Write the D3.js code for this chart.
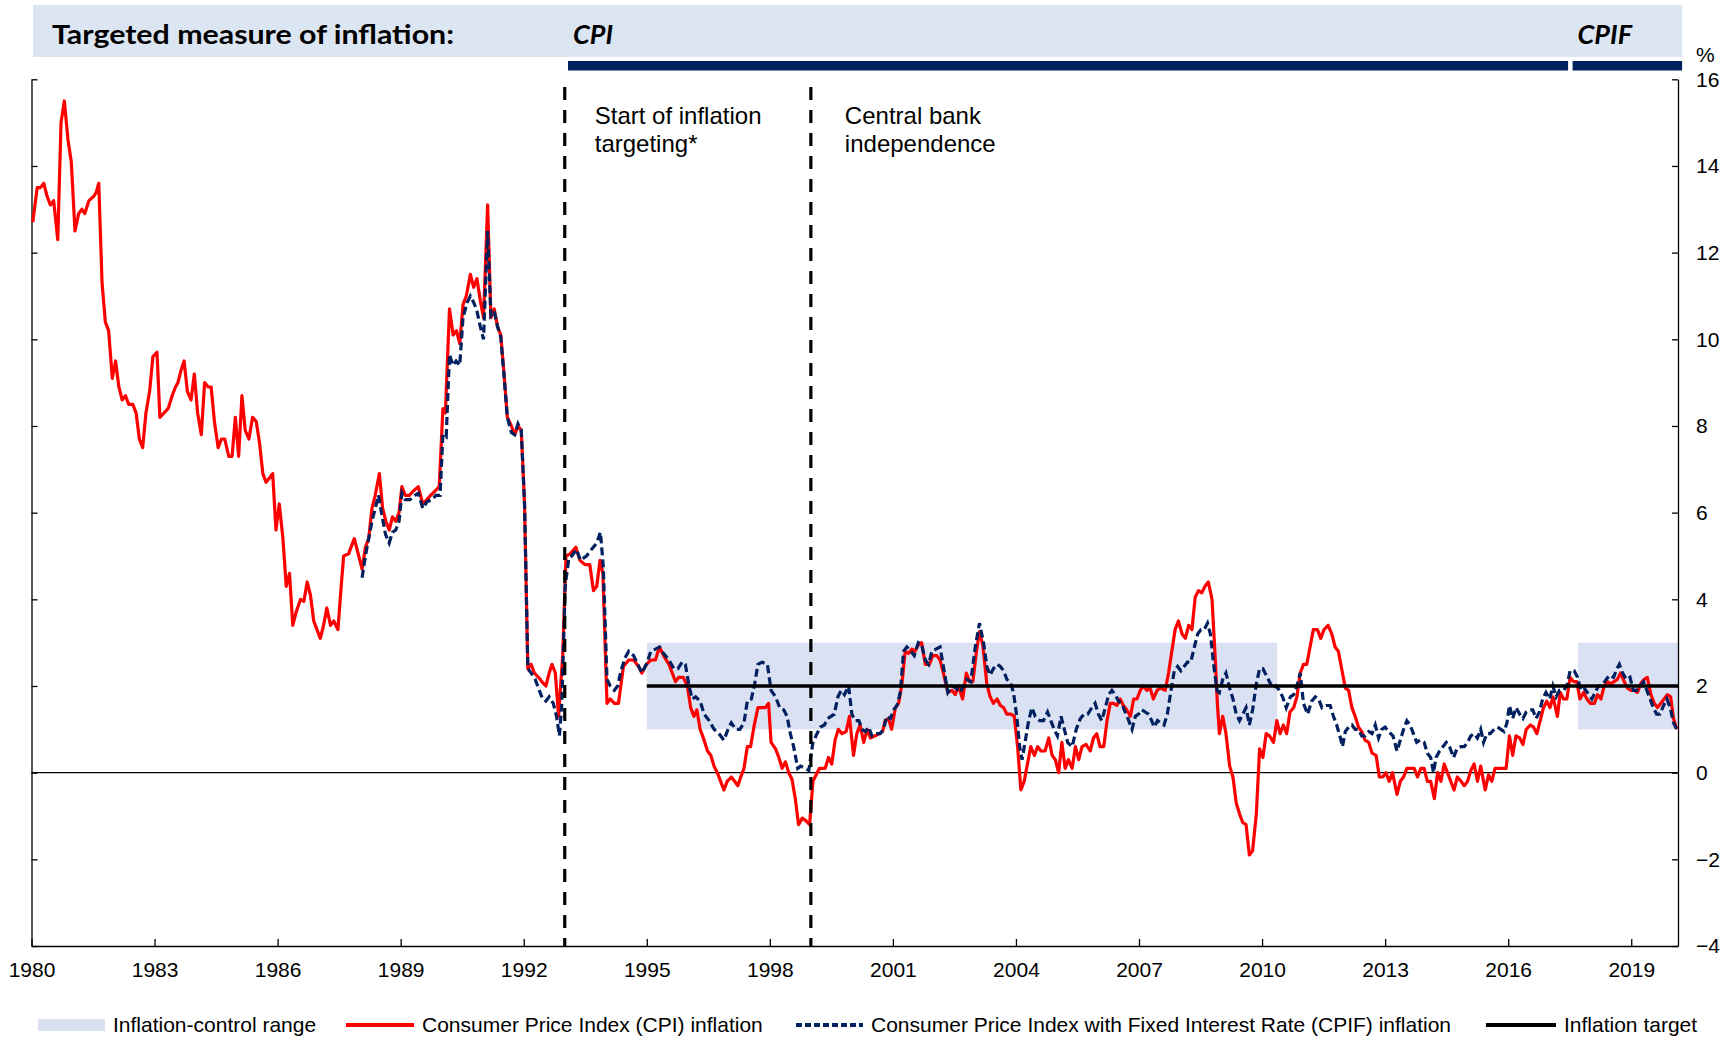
<!DOCTYPE html>
<html>
<head>
<meta charset="utf-8">
<script src="https://cdn.jsdelivr.net/npm/d3@7"></script>
<style>
  body { margin: 0; background: #fff; }
  svg { display: block; }
</style>
</head>
<body>
<svg id="chart"></svg>
<script>
// CPI inflation, [decimal year, %]
var cpiData = [
  [1980.03,12.7],[1980.14,13.5],[1980.22,13.5],[1980.30,13.6],[1980.38,13.3],[1980.46,13.1],[1980.54,13.2],[1980.64,12.3],
  [1980.72,15.0],[1980.80,15.5],[1980.89,14.6],[1980.97,14.1],[1981.06,12.5],[1981.15,12.9],[1981.23,13.0],[1981.30,12.9],
  [1981.40,13.2],[1981.52,13.3],[1981.58,13.4],[1981.64,13.6],[1981.72,11.3],[1981.80,10.4],[1981.88,10.2],[1981.97,9.1],
  [1982.05,9.5],[1982.13,8.9],[1982.21,8.6],[1982.29,8.7],[1982.37,8.5],[1982.47,8.5],[1982.55,8.3],[1982.63,7.7],
  [1982.71,7.5],[1982.79,8.3],[1982.88,8.8],[1982.96,9.6],[1983.06,9.7],[1983.13,8.2],[1983.23,8.3],[1983.33,8.4],
  [1983.43,8.7],[1983.51,8.9],[1983.57,9.0],[1983.65,9.3],[1983.72,9.5],[1983.80,8.8],[1983.89,8.6],[1983.97,9.2],
  [1984.05,8.3],[1984.14,7.8],[1984.22,9.0],[1984.31,8.9],[1984.38,8.9],[1984.46,8.1],[1984.55,7.5],[1984.63,7.7],
  [1984.71,7.7],[1984.81,7.3],[1984.89,7.3],[1984.97,8.2],[1985.05,7.3],[1985.13,8.7],[1985.21,7.9],[1985.30,7.7],
  [1985.39,8.2],[1985.48,8.1],[1985.56,7.6],[1985.64,6.9],[1985.72,6.7],[1985.80,6.8],[1985.88,6.9],[1985.96,5.6],
  [1986.04,6.2],[1986.13,5.4],[1986.21,4.3],[1986.29,4.6],[1986.37,3.4],[1986.45,3.7],[1986.56,4.0],[1986.64,3.95],
  [1986.72,4.4],[1986.80,4.1],[1986.88,3.5],[1986.96,3.3],[1987.04,3.1],[1987.12,3.4],[1987.20,3.8],[1987.29,3.4],
  [1987.37,3.5],[1987.47,3.3],[1987.55,4.3],[1987.61,5.0],[1987.73,5.05],[1987.87,5.4],[1987.95,5.1],[1988.06,4.7],
  [1988.14,5.2],[1988.22,5.4],[1988.30,6.1],[1988.38,6.4],[1988.48,6.9],[1988.56,6.1],[1988.64,5.8],[1988.72,5.6],
  [1988.80,5.9],[1988.88,5.8],[1988.96,6.0],[1989.03,6.6],[1989.11,6.4],[1989.21,6.4],[1989.31,6.5],[1989.43,6.6],
  [1989.54,6.2],[1989.64,6.3],[1989.73,6.4],[1989.84,6.5],[1989.94,6.6],[1990.03,8.4],[1990.09,8.3],[1990.19,10.7],
  [1990.28,10.1],[1990.36,10.2],[1990.44,9.9],[1990.52,10.8],[1990.60,11.0],[1990.70,11.5],[1990.78,11.2],[1990.86,11.4],
  [1990.94,10.9],[1991.02,10.5],[1991.12,13.1],[1991.20,10.5],[1991.28,10.7],[1991.36,10.3],[1991.44,10.1],[1991.52,9.2],
  [1991.60,8.2],[1991.70,8.0],[1991.78,7.8],[1991.86,8.0],[1991.94,7.9],[1992.02,6.2],[1992.10,2.4],[1992.18,2.5],
  [1992.26,2.3],[1992.36,2.2],[1992.44,2.1],[1992.54,2.0],[1992.62,2.3],[1992.69,2.5],[1992.77,2.3],[1992.85,1.3],
  [1992.95,2.7],[1993.03,5.0],[1993.13,5.05],[1993.27,5.2],[1993.37,4.9],[1993.49,4.8],[1993.61,4.8],[1993.70,4.2],
  [1993.78,4.3],[1993.86,4.9],[1993.93,4.6],[1994.03,1.6],[1994.11,1.7],[1994.21,1.6],[1994.31,1.6],[1994.43,2.45],
  [1994.56,2.6],[1994.68,2.6],[1994.80,2.45],[1994.88,2.3],[1994.99,2.5],[1995.10,2.6],[1995.21,2.6],[1995.31,2.9],
  [1995.41,2.7],[1995.54,2.5],[1995.62,2.3],[1995.70,2.1],[1995.78,2.2],[1995.89,2.2],[1995.99,2.0],[1996.07,1.5],
  [1996.15,1.3],[1996.22,1.45],[1996.30,1.0],[1996.38,0.8],[1996.48,0.5],[1996.56,0.4],[1996.64,0.15],[1996.72,0.0],
  [1996.80,-0.2],[1996.88,-0.4],[1996.96,-0.2],[1997.06,-0.1],[1997.14,-0.2],[1997.22,-0.3],[1997.29,-0.1],[1997.37,0.1],
  [1997.45,0.6],[1997.53,0.6],[1997.61,1.05],[1997.71,1.5],[1997.81,1.5],[1997.89,1.5],[1997.97,1.6],[1998.03,0.7],
  [1998.14,0.55],[1998.22,0.35],[1998.30,0.1],[1998.38,0.25],[1998.46,0.0],[1998.54,-0.15],[1998.62,-0.6],[1998.70,-1.2],
  [1998.79,-1.05],[1998.87,-1.1],[1998.97,-1.2],[1999.05,-0.2],[1999.13,-0.05],[1999.21,0.1],[1999.35,0.1],[1999.43,0.35],
  [1999.51,0.2],[1999.59,0.75],[1999.67,1.0],[1999.76,0.9],[1999.86,0.95],[1999.94,1.3],[2000.04,0.4],[2000.12,0.9],
  [2000.20,1.1],[2000.29,0.7],[2000.37,1.0],[2000.45,0.8],[2000.57,0.85],[2000.67,0.9],[2000.75,0.95],[2000.81,1.2],
  [2000.89,1.25],[2000.97,1.0],[2001.06,1.5],[2001.14,1.6],[2001.22,2.05],[2001.30,2.8],[2001.38,2.75],[2001.46,2.85],
  [2001.54,2.8],[2001.62,2.95],[2001.70,3.0],[2001.79,2.5],[2001.89,2.5],[2001.97,2.7],[2002.07,2.7],[2002.15,2.6],
  [2002.23,2.3],[2002.34,1.85],[2002.44,1.9],[2002.52,1.8],[2002.60,2.0],[2002.70,1.7],[2002.79,2.3],[2002.87,2.1],
  [2002.95,2.1],[2003.03,2.75],[2003.11,3.25],[2003.19,2.95],[2003.23,2.6],[2003.29,2.05],[2003.37,1.75],[2003.45,1.6],
  [2003.54,1.7],[2003.62,1.55],[2003.70,1.5],[2003.78,1.35],[2003.88,1.35],[2003.96,1.3],[2004.04,0.6],[2004.12,-0.4],
  [2004.20,-0.2],[2004.28,0.2],[2004.36,0.6],[2004.45,0.4],[2004.53,0.6],[2004.61,0.5],[2004.71,0.5],[2004.80,0.8],
  [2004.88,0.4],[2004.96,0.3],[2005.04,0.0],[2005.12,0.7],[2005.20,0.1],[2005.28,0.3],[2005.37,0.1],[2005.45,0.6],
  [2005.53,0.3],[2005.61,0.6],[2005.71,0.65],[2005.81,0.5],[2005.89,0.8],[2005.97,0.9],[2006.05,0.6],[2006.14,0.6],
  [2006.22,1.2],[2006.30,1.6],[2006.38,1.6],[2006.46,1.55],[2006.54,1.7],[2006.62,1.55],[2006.70,1.45],[2006.79,1.3],
  [2006.87,1.7],[2006.95,1.7],[2007.03,1.9],[2007.11,2.0],[2007.19,1.9],[2007.27,1.95],[2007.35,1.7],[2007.44,1.9],
  [2007.52,1.95],[2007.64,1.9],[2007.72,2.3],[2007.80,2.8],[2007.88,3.3],[2007.96,3.5],[2008.05,3.2],[2008.13,3.1],
  [2008.21,3.4],[2008.29,3.3],[2008.37,4.05],[2008.45,4.2],[2008.53,4.15],[2008.61,4.3],[2008.69,4.4],[2008.78,4.0],
  [2008.86,2.6],[2008.91,1.6],[2008.96,0.9],[2009.04,1.3],[2009.12,0.9],[2009.21,0.15],[2009.29,-0.1],[2009.37,-0.7],
  [2009.45,-0.95],[2009.53,-1.15],[2009.61,-1.2],[2009.69,-1.9],[2009.77,-1.8],[2009.86,-0.95],[2009.94,0.55],[2010.02,0.35],
  [2010.10,0.9],[2010.18,0.85],[2010.28,0.7],[2010.36,1.2],[2010.44,0.9],[2010.52,1.1],[2010.60,0.9],[2010.68,1.4],
  [2010.77,1.5],[2010.85,1.75],[2010.93,2.3],[2011.01,2.5],[2011.09,2.5],[2011.17,2.9],[2011.25,3.3],[2011.35,3.3],
  [2011.43,3.1],[2011.51,3.3],[2011.61,3.4],[2011.70,3.2],[2011.78,2.9],[2011.86,2.8],[2011.95,2.35],[2012.03,1.95],
  [2012.11,1.9],[2012.19,1.5],[2012.27,1.3],[2012.35,1.05],[2012.43,0.95],[2012.51,0.75],[2012.60,0.7],[2012.68,0.45],
  [2012.78,0.4],[2012.86,-0.1],[2012.94,-0.1],[2013.02,0.0],[2013.10,-0.2],[2013.18,0.0],[2013.29,-0.5],[2013.37,-0.2],
  [2013.45,-0.1],[2013.53,0.1],[2013.63,0.1],[2013.71,0.1],[2013.79,-0.1],[2013.87,0.1],[2013.95,0.1],[2014.03,-0.2],
  [2014.11,-0.2],[2014.20,-0.6],[2014.28,0.0],[2014.36,-0.2],[2014.44,0.2],[2014.52,0.0],[2014.60,-0.2],[2014.68,-0.4],
  [2014.76,-0.1],[2014.85,-0.2],[2014.93,-0.3],[2015.01,-0.2],[2015.09,0.05],[2015.17,0.2],[2015.25,-0.2],[2015.33,0.15],
  [2015.44,-0.4],[2015.52,-0.05],[2015.60,-0.2],[2015.68,0.1],[2015.76,0.1],[2015.84,0.1],[2015.95,0.1],[2016.03,0.85],
  [2016.11,0.4],[2016.19,0.85],[2016.28,0.8],[2016.36,0.65],[2016.44,1.0],[2016.54,1.1],[2016.62,1.05],[2016.70,0.9],
  [2016.78,1.2],[2016.86,1.5],[2016.94,1.65],[2017.02,1.5],[2017.09,1.75],[2017.14,1.55],[2017.20,1.3],[2017.27,1.85],
  [2017.35,1.7],[2017.43,1.7],[2017.51,2.2],[2017.59,2.1],[2017.67,2.1],[2017.75,1.7],[2017.84,1.85],[2017.92,1.7],
  [2018.00,1.6],[2018.10,1.6],[2018.18,1.8],[2018.26,1.7],[2018.34,2.0],[2018.42,2.1],[2018.50,2.05],[2018.58,2.1],
  [2018.66,2.15],[2018.74,2.3],[2018.83,2.1],[2018.91,1.95],[2018.99,1.9],[2019.07,1.9],[2019.15,1.85],[2019.23,2.05],
  [2019.31,2.15],[2019.39,2.2],[2019.48,1.8],[2019.56,1.6],[2019.64,1.5],[2019.72,1.6],[2019.80,1.7],[2019.88,1.8],
  [2019.96,1.75],[2020.03,1.25],[2020.11,1.0]
];

// CPIF inflation, [decimal year, %]
var cpifData = [
  [1988.06,4.5],[1988.14,5.0],[1988.22,5.4],[1988.30,5.8],[1988.38,6.1],[1988.46,6.4],[1988.55,5.9],[1988.63,5.5],
  [1988.72,5.3],[1988.80,5.55],[1988.88,5.6],[1988.96,5.8],[1989.03,6.45],[1989.11,6.3],[1989.23,6.3],[1989.35,6.4],
  [1989.43,6.45],[1989.54,6.1],[1989.64,6.25],[1989.76,6.3],[1989.86,6.4],[1989.96,6.4],[1990.03,7.8],[1990.11,7.75],
  [1990.19,9.65],[1990.27,9.4],[1990.35,9.5],[1990.44,9.4],[1990.52,10.5],[1990.62,10.85],[1990.70,11.0],[1990.78,10.85],
  [1990.86,10.65],[1990.94,10.3],[1991.02,10.0],[1991.12,12.5],[1991.20,10.55],[1991.28,10.65],[1991.36,10.3],[1991.44,10.05],
  [1991.52,9.15],[1991.60,8.2],[1991.70,7.85],[1991.78,7.8],[1991.86,8.05],[1991.94,7.9],[1992.02,6.2],[1992.10,2.4],
  [1992.18,2.3],[1992.28,2.15],[1992.38,1.9],[1992.46,1.7],[1992.54,1.65],[1992.62,1.75],[1992.72,1.6],[1992.80,1.3],
  [1992.87,0.85],[1992.93,1.6],[1993.01,4.3],[1993.10,4.95],[1993.17,5.0],[1993.29,5.15],[1993.38,4.9],[1993.53,5.0],
  [1993.65,5.15],[1993.78,5.3],[1993.87,5.55],[1993.94,4.75],[1994.03,2.15],[1994.11,2.0],[1994.21,1.9],[1994.29,2.0],
  [1994.37,2.35],[1994.47,2.65],[1994.56,2.8],[1994.68,2.7],[1994.78,2.5],[1994.88,2.3],[1994.99,2.5],[1995.10,2.8],
  [1995.21,2.85],[1995.31,2.9],[1995.41,2.75],[1995.54,2.6],[1995.66,2.4],[1995.76,2.4],[1995.86,2.55],[1995.94,2.5],
  [1996.03,2.0],[1996.11,1.7],[1996.19,1.75],[1996.30,1.65],[1996.40,1.35],[1996.52,1.2],[1996.64,1.0],[1996.76,0.9],
  [1996.88,0.75],[1996.98,1.0],[1997.06,1.15],[1997.17,1.0],[1997.27,1.0],[1997.37,1.15],[1997.45,1.65],[1997.55,1.7],
  [1997.63,2.05],[1997.71,2.5],[1997.81,2.55],[1997.94,2.5],[1998.03,1.9],[1998.14,1.75],[1998.24,1.5],[1998.34,1.45],
  [1998.42,1.3],[1998.50,0.9],[1998.58,0.6],[1998.68,0.1],[1998.75,0.15],[1998.87,0.1],[1998.95,0.05],[1999.05,0.7],
  [1999.15,0.9],[1999.23,1.05],[1999.33,1.1],[1999.41,1.25],[1999.49,1.3],[1999.57,1.35],[1999.66,1.75],[1999.74,1.9],
  [1999.82,1.8],[1999.92,2.0],[2000.00,1.35],[2000.08,1.2],[2000.17,1.2],[2000.25,1.0],[2000.33,0.95],[2000.41,1.05],
  [2000.49,0.85],[2000.60,0.9],[2000.69,0.9],[2000.77,1.0],[2000.85,1.3],[2000.94,1.25],[2001.02,1.45],[2001.10,1.55],
  [2001.18,1.85],[2001.26,2.8],[2001.34,2.9],[2001.44,2.8],[2001.52,2.7],[2001.62,3.0],[2001.70,2.95],[2001.79,2.6],
  [2001.87,2.5],[2001.95,2.8],[2002.05,2.85],[2002.15,2.9],[2002.23,2.45],[2002.34,1.85],[2002.44,2.0],[2002.54,1.95],
  [2002.64,1.85],[2002.72,2.0],[2002.80,2.15],[2002.90,2.1],[2003.00,2.85],[2003.11,3.45],[2003.21,3.0],[2003.29,2.45],
  [2003.37,2.25],[2003.45,2.4],[2003.54,2.5],[2003.62,2.45],[2003.70,2.35],[2003.78,2.15],[2003.86,2.1],[2003.94,1.85],
  [2004.02,1.3],[2004.09,0.6],[2004.15,0.3],[2004.23,0.75],[2004.31,1.2],[2004.39,1.5],[2004.47,1.3],[2004.58,1.2],
  [2004.67,1.2],[2004.77,1.4],[2004.85,1.2],[2004.93,1.0],[2005.01,0.85],[2005.10,1.3],[2005.18,1.0],[2005.26,0.7],
  [2005.37,0.6],[2005.47,1.0],[2005.57,1.25],[2005.66,1.35],[2005.75,1.35],[2005.85,1.5],[2005.93,1.6],[2006.01,1.35],
  [2006.09,1.2],[2006.18,1.5],[2006.26,1.8],[2006.34,1.9],[2006.42,1.8],[2006.50,1.65],[2006.58,1.6],[2006.66,1.4],
  [2006.75,1.2],[2006.83,1.0],[2006.91,1.3],[2006.99,1.35],[2007.07,1.45],[2007.15,1.4],[2007.23,1.35],[2007.31,1.2],
  [2007.37,1.05],[2007.45,1.2],[2007.53,1.15],[2007.61,1.1],[2007.69,1.35],[2007.78,1.9],[2007.86,2.35],[2007.94,2.45],
  [2008.02,2.35],[2008.10,2.45],[2008.18,2.55],[2008.26,2.55],[2008.35,2.9],[2008.43,3.2],[2008.51,3.3],[2008.59,3.3],
  [2008.67,3.45],[2008.74,3.2],[2008.82,2.5],[2008.90,1.9],[2008.96,1.85],[2009.04,2.15],[2009.12,2.3],[2009.21,1.95],
  [2009.29,1.7],[2009.37,1.35],[2009.45,1.2],[2009.53,1.35],[2009.61,1.5],[2009.69,1.1],[2009.77,1.45],[2009.86,2.05],
  [2009.94,2.4],[2010.02,2.4],[2010.10,2.25],[2010.18,2.1],[2010.26,1.95],[2010.34,2.0],[2010.42,1.9],[2010.50,1.75],
  [2010.59,1.5],[2010.69,1.75],[2010.77,1.8],[2010.85,2.0],[2010.93,2.3],[2011.01,1.6],[2011.11,1.35],[2011.21,1.65],
  [2011.30,1.75],[2011.38,1.7],[2011.46,1.5],[2011.56,1.55],[2011.66,1.55],[2011.74,1.3],[2011.82,1.1],[2011.91,0.8],
  [2011.96,0.6],[2012.03,0.95],[2012.11,1.05],[2012.19,1.1],[2012.27,1.0],[2012.35,1.0],[2012.43,0.85],[2012.51,0.85],
  [2012.60,0.95],[2012.68,0.9],[2012.76,1.1],[2012.84,0.8],[2012.92,1.0],[2013.00,1.05],[2013.08,0.95],[2013.19,0.85],
  [2013.29,0.5],[2013.37,0.75],[2013.45,1.0],[2013.53,1.2],[2013.61,1.1],[2013.69,0.9],[2013.77,0.7],[2013.85,0.75],
  [2013.95,0.7],[2014.03,0.45],[2014.11,0.35],[2014.18,0.0],[2014.24,0.35],[2014.33,0.5],[2014.41,0.6],[2014.49,0.7],
  [2014.57,0.6],[2014.67,0.35],[2014.75,0.55],[2014.85,0.6],[2014.93,0.6],[2015.01,0.7],[2015.09,0.85],[2015.17,0.9],
  [2015.25,0.8],[2015.33,1.0],[2015.40,0.7],[2015.48,0.9],[2015.56,0.9],[2015.66,1.0],[2015.74,1.05],[2015.82,1.0],
  [2015.90,0.95],[2015.97,1.15],[2016.03,1.55],[2016.11,1.25],[2016.19,1.5],[2016.28,1.35],[2016.36,1.25],[2016.44,1.4],
  [2016.52,1.45],[2016.60,1.45],[2016.68,1.25],[2016.76,1.4],[2016.84,1.7],[2016.92,1.85],[2017.01,1.7],[2017.09,2.0],
  [2017.17,1.75],[2017.25,1.9],[2017.35,1.9],[2017.43,2.0],[2017.51,2.35],[2017.61,2.35],[2017.69,2.2],[2017.77,1.9],
  [2017.85,1.95],[2017.93,1.85],[2018.04,1.7],[2018.12,1.85],[2018.20,2.0],[2018.28,2.0],[2018.39,2.15],[2018.47,2.25],
  [2018.57,2.2],[2018.65,2.4],[2018.71,2.5],[2018.79,2.3],[2018.88,2.15],[2018.97,2.2],[2019.05,1.9],[2019.13,1.9],
  [2019.22,2.0],[2019.30,2.1],[2019.38,1.9],[2019.46,1.7],[2019.54,1.5],[2019.62,1.35],[2019.70,1.35],[2019.79,1.55],
  [2019.87,1.7],[2019.95,1.5],[2020.03,1.15],[2020.11,1.0]
];

var controlBands = [[1995.0, 2010.37], [2017.7, 2020.14]];   // inflation-control range periods
var controlRange = [1, 3];
var targetLine = [[1995.0, 2], [2020.14, 2]];                 // inflation target
var events = [
  {year: 1993.0, lines: ["Start of inflation", "targeting*"]},
  {year: 1999.0, lines: ["Central bank", "independence"]}
];
var periods = [
  {label: "CPI", from: 1993.08, to: 2017.46},
  {label: "CPIF", from: 2017.57, to: 2020.24}
];
var xTicks = d3.range(1980, 2020, 3);
var yTicks = d3.range(-4, 17, 2);
var legendItems = [
  {type: "band", label: "Inflation-control range"},
  {type: "cpi", label: "Consumer Price Index (CPI) inflation"},
  {type: "cpif", label: "Consumer Price Index with Fixed Interest Rate (CPIF) inflation"},
  {type: "target", label: "Inflation target"}
];

var W = 1732, H = 1039;
var FONT = "'Liberation Sans', Arial, sans-serif";
var HEAD_FONT = "Lato, 'Open Sans', sans-serif";
var RED = "#ff0000", NAVY = "#002060", BAND = "#d9e1f2", HEAD = "#dce6f2";

var svg = d3.select("#chart").attr("width", W).attr("height", H);

var x = d3.scaleLinear().domain([1980, 2020.14]).range([31.5, 1678]);
var y = d3.scaleLinear().domain([-4, 16]).range([946, 79.3]);

//header band
svg.append("rect")
    .attr("x", 33).attr("y", 5)
    .attr("width", 1649).attr("height", 52)
    .attr("fill", HEAD);
svg.append("text")
    .text("Targeted measure of inflation:")
    .attr("x", 52).attr("y", 44)
    .attr("font-family", HEAD_FONT)
    .attr("font-weight", "bold")
    .attr("font-size", "27px")
    .attr("textLength", 402)
    .attr("lengthAdjust", "spacingAndGlyphs")
    .attr("fill", "#000");

//measure periods: navy bars + italic labels
svg.selectAll("rect.period")
    .data(periods)
    .enter()
    .append("rect")
    .attr("class", "period")
    .attr("x", function(d) { return x(d.from); })
    .attr("y", 61)
    .attr("width", function(d) { return x(d.to) - x(d.from); })
    .attr("height", 9.5)
    .attr("fill", NAVY);
svg.selectAll("text.period")
    .data(periods)
    .enter()
    .append("text")
    .attr("class", "period")
    .text(function(d) { return d.label; })
    .attr("x", function(d) { return x(d.from) + 5; })
    .attr("y", 44)
    .attr("font-family", HEAD_FONT)
    .attr("font-weight", "bold")
    .attr("font-style", "italic")
    .attr("font-size", "27px")
    .attr("fill", "#000");

//inflation-control range
svg.selectAll("rect.band")
    .data(controlBands)
    .enter()
    .append("rect")
    .attr("class", "band")
    .attr("x", function(d) { return x(d[0]); })
    .attr("y", y(controlRange[1]))
    .attr("width", function(d) { return x(d[1]) - x(d[0]); })
    .attr("height", y(controlRange[0]) - y(controlRange[1]))
    .attr("fill", BAND);

//zero line
svg.append("line")
    .attr("x1", x(1980)).attr("x2", x(2020.14))
    .attr("y1", y(0)).attr("y2", y(0))
    .attr("stroke", "#000")
    .attr("stroke-width", 1.3);

//axes
var leftAxis = d3.axisRight(y).tickValues(yTicks).tickSize(6).tickSizeOuter(0).tickFormat("");
svg.append("g")
    .attr("transform", "translate(" + x(1980) + ",0)")
    .call(leftAxis);

var rightAxis = d3.axisRight(y).tickValues(yTicks).tickSize(-6).tickSizeOuter(0).tickPadding(18);
svg.append("g")
    .attr("transform", "translate(" + x(2020.14) + ",0)")
    .call(rightAxis);

var bottomAxis = d3.axisBottom(x).tickValues(xTicks).tickSize(-7).tickSizeOuter(0)
    .tickPadding(16).tickFormat(d3.format("d"));
svg.append("g")
    .attr("transform", "translate(0," + y(-4) + ")")
    .call(bottomAxis);

svg.selectAll(".tick text")
    .attr("font-family", FONT)
    .attr("font-size", "21px")
    .attr("fill", "#000");
svg.selectAll(".domain, .tick line")
    .attr("stroke", "#000")
    .attr("stroke-width", 1.3);

svg.append("text")
    .text("%")
    .attr("x", 1696).attr("y", 62)
    .attr("font-family", FONT)
    .attr("font-size", "21px");

//series lines
var line = d3.line()
    .x(function(d) { return x(d[0]); })
    .y(function(d) { return y(d[1]); });

svg.append("path")
    .datum(cpiData)
    .attr("d", line)
    .attr("fill", "none")
    .attr("stroke", RED)
    .attr("stroke-width", 3.2)
    .attr("stroke-linejoin", "round");

svg.append("path")
    .datum(cpifData)
    .attr("d", line)
    .attr("fill", "none")
    .attr("stroke", NAVY)
    .attr("stroke-width", 3.2)
    .attr("stroke-dasharray", "8,4");

//inflation target
svg.append("path")
    .datum(targetLine)
    .attr("d", line)
    .attr("stroke", "#000")
    .attr("stroke-width", 3.5);

//event lines + notes
svg.selectAll("line.event")
    .data(events)
    .enter()
    .append("line")
    .attr("class", "event")
    .attr("x1", function(d) { return x(d.year); })
    .attr("x2", function(d) { return x(d.year); })
    .attr("y1", 87)
    .attr("y2", y(-4))
    .attr("stroke", "#000")
    .attr("stroke-width", 3.2)
    .attr("stroke-dasharray", "13,10");

var noteDx = [30, 34];
events.forEach(function(ev, k) {
    ev.lines.forEach(function(t, i) {
        svg.append("text")
            .text(t)
            .attr("x", x(ev.year) + noteDx[k])
            .attr("y", 124 + i * 28)
            .attr("font-family", FONT)
            .attr("font-size", "24px")
            .attr("fill", "#000");
    });
});

//legend
var legendX = [38, 346, 796, 1486];
var legendTextX = [113, 422, 871, 1564];
var lg = svg.selectAll("g.legend")
    .data(legendItems)
    .enter()
    .append("g")
    .attr("class", "legend");

lg.each(function(d, i) {
    var g = d3.select(this);
    var x0 = legendX[i];
    if (d.type === "band") {
        g.append("rect").attr("x", x0).attr("y", 1019).attr("width", 67).attr("height", 12).attr("fill", BAND);
    } else {
        var len = legendTextX[i] - 8 - x0;
        var ln = g.append("line")
            .attr("x1", x0).attr("x2", x0 + len)
            .attr("y1", 1025).attr("y2", 1025);
        if (d.type === "cpi") {
            ln.attr("stroke", RED).attr("stroke-width", 4);
        } else if (d.type === "cpif") {
            ln.attr("stroke", NAVY).attr("stroke-width", 4).attr("stroke-dasharray", "6,3");
        } else {
            ln.attr("stroke", "#000").attr("stroke-width", 4);
        }
    }
    g.append("text")
        .text(d.label)
        .attr("x", legendTextX[i])
        .attr("y", 1032)
        .attr("font-family", FONT)
        .attr("font-size", "21px")
        .attr("fill", "#000");
});
</script>
</body>
</html>
